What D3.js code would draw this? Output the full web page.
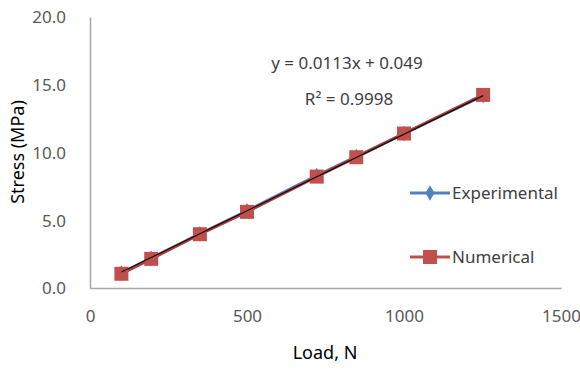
<!DOCTYPE html>
<html>
<head>
<meta charset="utf-8">
<script src="https://cdn.jsdelivr.net/npm/d3@7"></script>
<style>
  body { margin: 0; background: #fff; overflow: hidden; }
  text { font-family: "Noto Sans", "Open Sans", sans-serif; }
</style>
</head>
<body>
<svg id="chart" width="580" height="371"></svg>
<script>
'use strict';

// values
const loads = [100, 195, 350, 500, 722, 848, 1000, 1252];
const experimental = [1.1, 2.2, 4.0, 5.7, 8.3, 9.7, 11.4, 14.2];
const numerical = [1.05, 2.15, 3.97, 5.62, 8.22, 9.65, 11.4, 14.25];
const x_ticks = [0, 500, 1000, 1500];
const y_ticks = [0, 5, 10, 15, 20];
const fit = { slope: 0.0113, intercept: 0.049 };

const svg = d3.select('#chart');

const x = d3.scaleLinear().domain([0, 1500]).range([90, 561]);
const y = d3.scaleLinear().domain([0, 20]).range([288, 17]);

const grey = '#595959';
const axis_color = '#a6a6a6';

// axes, no tick marks
const x_axis = svg.append('g')
    .attr('transform', `translate(0,${y(0)})`)
    .call(d3.axisBottom(x).tickValues(x_ticks).tickSize(0).tickPadding(22)
        .tickFormat(d3.format('d')));
const y_axis = svg.append('g')
    .attr('transform', `translate(${x(0)},0)`)
    .call(d3.axisLeft(y).tickValues(y_ticks).tickSize(0).tickPadding(24)
        .tickFormat(d3.format('.1f')));

[x_axis, y_axis].forEach((g) => {
    g.select('.domain').attr('stroke', axis_color).attr('stroke-width', 1.5);
    g.selectAll('text')
        .attr('fill', grey)
        .style('font-size', '17px')
        .style('font-family', '"Noto Sans", sans-serif');
});
y_axis.selectAll('text').attr('dy', '0.35em');

// axis titles
svg.append('text')
    .attr('x', 325).attr('y', 359)
    .attr('text-anchor', 'middle')
    .attr('fill', '#000')
    .style('font-size', '18px')
    .text('Load, N');

svg.append('text')
    .attr('transform', 'translate(24,152) rotate(-90)')
    .attr('text-anchor', 'middle')
    .attr('fill', '#000')
    .style('font-size', '18px')
    .text('Stress (MPa)');

const line = (vals) => d3.line()
    .x((d, i) => x(loads[i]))
    .y((d) => y(d))(vals);

// experimental series (blue, diamonds)
svg.append('path')
    .attr('d', line(experimental))
    .attr('fill', 'none')
    .attr('stroke', '#4f81bd')
    .attr('stroke-width', 3);

const diamond = d3.symbol().type(d3.symbolDiamond).size(70);
svg.selectAll('.exp')
    .data(experimental)
    .enter().append('path')
    .attr('class', 'exp')
    .attr('d', diamond)
    .attr('transform', (d, i) => `translate(${x(loads[i])},${y(d)})`)
    .attr('fill', '#4f81bd');

// numerical series (red, squares)
svg.append('path')
    .attr('d', line(numerical))
    .attr('fill', 'none')
    .attr('stroke', '#a8403c')
    .attr('stroke-width', 3);

const sq = 14;
svg.selectAll('.num')
    .data(numerical)
    .enter().append('rect')
    .attr('class', 'num')
    .attr('x', (d, i) => x(loads[i]) - sq / 2)
    .attr('y', (d) => y(d) - sq / 2)
    .attr('width', sq)
    .attr('height', sq)
    .attr('fill', '#c0504d');

// linear trendline
const x0 = loads[0], x1 = loads[loads.length - 1];
svg.append('line')
    .attr('x1', x(x0)).attr('y1', y(fit.slope * x0 + fit.intercept))
    .attr('x2', x(x1)).attr('y2', y(fit.slope * x1 + fit.intercept))
    .attr('stroke', '#1a0a0a')
    .attr('stroke-width', 1.2);

// equation
svg.append('text')
    .attr('x', 347).attr('y', 69)
    .attr('text-anchor', 'middle')
    .attr('fill', '#404040')
    .style('font-size', '17px')
    .text(`y = ${fit.slope}x + ${fit.intercept}`);

svg.append('text')
    .attr('x', 349).attr('y', 105)
    .attr('text-anchor', 'middle')
    .attr('fill', '#404040')
    .style('font-size', '17px')
    .text('R² = 0.9998');

// legend
const legend = [
    { name: 'Experimental', color: '#4f81bd', y: 193, marker: 'diamond' },
    { name: 'Numerical', color: '#c0504d', y: 257, marker: 'square' },
];
const lg = svg.selectAll('.legend')
    .data(legend)
    .enter().append('g')
    .attr('class', 'legend')
    .attr('transform', (d) => `translate(410,${d.y})`);

lg.append('line')
    .attr('x1', 0).attr('x2', 40)
    .attr('stroke', (d) => d.color)
    .attr('stroke-width', 3);

lg.filter((d) => d.marker === 'diamond').append('path')
    .attr('d', diamond)
    .attr('transform', 'translate(20,0)')
    .attr('fill', (d) => d.color);

lg.filter((d) => d.marker === 'square').append('rect')
    .attr('x', 20 - sq / 2).attr('y', -sq / 2)
    .attr('width', sq).attr('height', sq)
    .attr('fill', (d) => d.color);

lg.append('text')
    .attr('x', 42).attr('dy', '0.35em')
    .attr('fill', '#404040')
    .style('font-size', '17px')
    .text((d) => d.name);
</script>
</body>
</html>
